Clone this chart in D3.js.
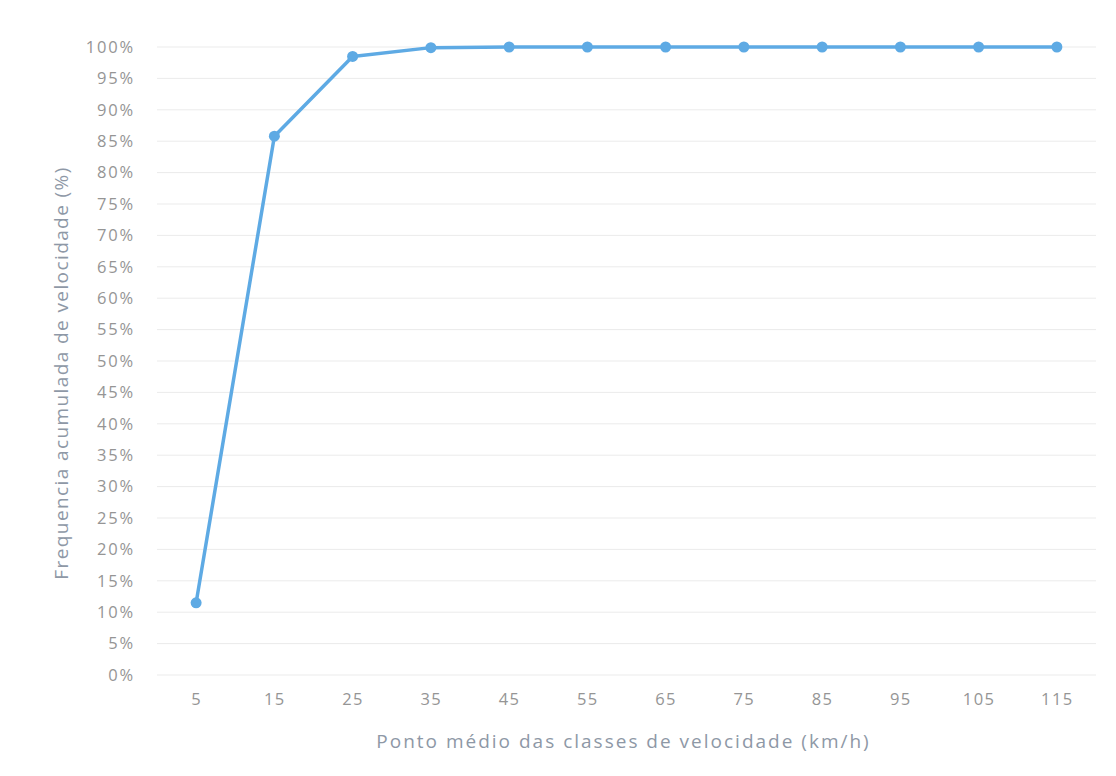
<!DOCTYPE html>
<html>
<head>
<meta charset="utf-8">
<script src="https://cdn.jsdelivr.net/npm/d3@7"></script>
<style>
  body { margin: 0; background: #fff; }
  text { font-family: "Open Sans", "Noto Sans", sans-serif; fill: #959595; }
</style>
</head>
<body>
<svg id="chart" width="1116" height="776"></svg>
<script>
// midpoints of the speed classes (km/h)
const classes = ["5", "15", "25", "35", "45", "55", "65", "75", "85", "95", "105", "115"]
// cumulative frequency (%)
const cumFreq = [11.5, 85.8, 98.5, 99.9, 100, 100, 100, 100, 100, 100, 100, 100]
const yTicks = [0, 5, 10, 15, 20, 25, 30, 35, 40, 45, 50, 55, 60, 65, 70, 75, 80, 85, 90, 95, 100]

const xTitle = "Ponto médio das classes de velocidade (km/h)"
const yTitle = "Frequencia acumulada de velocidade (%)"

let svg = d3.select("#chart")

let mLeft = 157, mRight = 1096, mTop = 47, mBottom = 675

let x = d3.scalePoint()
    .domain(classes)
    .range([mLeft, mRight])
    .padding(0.5)

let y = d3.scaleLinear()
    .domain([0, 100])
    .range([mBottom, mTop])

// gridlines
svg.append("g")
    .selectAll("line")
    .data(yTicks)
    .join("line")
    .attr("x1", mLeft)
    .attr("x2", mRight)
    .attr("y1", d => y(d))
    .attr("y2", d => y(d))
    .style("stroke", "#ebebeb")
    .style("stroke-width", 1)

// y axis labels
let yAxis = svg.append("g")
    .attr("transform", `translate(${mLeft - 22},0)`)
    .call(d3.axisLeft(y).tickValues(yTicks).tickSize(0).tickPadding(0).tickFormat(d => d + "%"))
yAxis.select(".domain").remove()
yAxis.selectAll("text")
    .style("font-size", "16.5px")
    .style("letter-spacing", "1.8px")

// x axis labels
let xAxis = svg.append("g")
    .attr("transform", `translate(0,${mBottom + 18})`)
    .call(d3.axisBottom(x).tickSize(0).tickPadding(0))
xAxis.select(".domain").remove()
xAxis.selectAll("text")
    .style("font-size", "16.5px")
    .style("letter-spacing", "1.5px")

// axis titles
svg.append("text")
    .attr("x", (mLeft + mRight) / 2 - 3)
    .attr("y", 748)
    .attr("text-anchor", "middle")
    .style("font-size", "19px")
    .style("letter-spacing", "2px")
    .style("fill", "#8e98a6")
    .text(xTitle)

svg.append("text")
    .attr("transform", `translate(68,${(mTop + mBottom) / 2 + 12}) rotate(-90)`)
    .attr("text-anchor", "middle")
    .style("font-size", "19px")
    .style("letter-spacing", "1.4px")
    .style("fill", "#8e98a6")
    .text(yTitle)

// line + markers
let line = d3.line()
    .x((d, i) => x(classes[i]))
    .y(d => y(d))

svg.append("path")
    .datum(cumFreq)
    .attr("d", line)
    .style("fill", "none")
    .style("stroke", "#5eaae4")
    .style("stroke-width", 3.5)
    .style("stroke-linejoin", "round")

svg.append("g")
    .selectAll("circle")
    .data(cumFreq)
    .join("circle")
    .attr("cx", (d, i) => x(classes[i]))
    .attr("cy", d => y(d))
    .attr("r", 5.5)
    .style("fill", "#5eaae4")
</script>
</body>
</html>
